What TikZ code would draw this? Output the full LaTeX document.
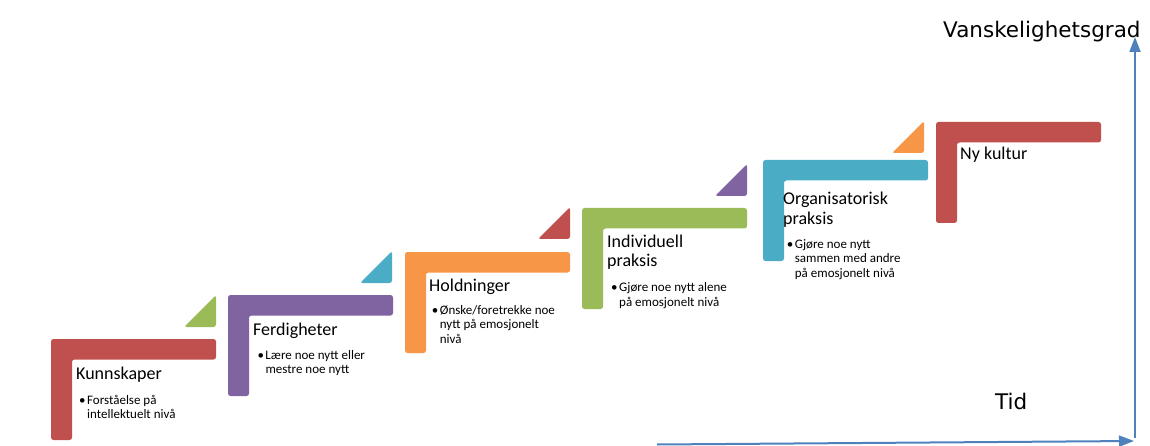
\documentclass[tikz,border=0pt]{standalone}
\usepackage{fontspec}
\setmainfont{Carlito}
\newfontfamily\axisfont{DejaVu Sans}
\usetikzlibrary{arrows.meta}
\definecolor{cred}{HTML}{C0504D}
\definecolor{cpurple}{HTML}{8064A2}
\definecolor{corange}{HTML}{F79646}
\definecolor{cgreen}{HTML}{9BBB59}
\definecolor{cteal}{HTML}{4BACC6}
\definecolor{caxis}{HTML}{4F81BD}
\tikzset{
  pics/lstep/.style={code={\fill[#1,rounded corners=2.5pt] (0,0) -- (165,0) -- (165,20.5) -- (21,20.5) -- (21,101) -- (0,101) -- cycle;}},
  pics/ltri/.style={code={\fill[#1,rounded corners=2.5pt] (0,32) -- (32,32) -- (32,0) -- cycle;}},
  steptitle/.style={anchor=base west, inner sep=0pt, font=\fontsize{18}{19.5}\selectfont},
  stepbullet/.style={anchor=base west, inner sep=0pt, font=\fontsize{13}{14.6}\selectfont},
  axislabel/.style={anchor=base west, inner sep=0pt, font=\axisfont\fontsize{21.5}{24}\selectfont},
  axisarrow/.style={draw=caxis, line width=2pt, -{Triangle[length=15pt,width=11pt]}},
}
\newcommand{\bl}{\makebox[8pt][l]{\textbullet}}
\newcommand{\ind}{\hspace*{8pt}}
\begin{document}
\begin{tikzpicture}[x=1pt,y=-1pt]
\useasboundingbox (0,0) rectangle (1150,446);
% steps
\pic at (51,339) {lstep=cred};
\pic at (228,295) {lstep=cpurple};
\pic at (405,252) {lstep=corange};
\pic at (582,208) {lstep=cgreen};
\pic at (763,160) {lstep=cteal};
\pic at (936,122) {lstep=cred};
% triangles
\pic at (184,295) {ltri=cgreen};
\pic at (360,251) {ltri=cteal};
\pic at (538,207) {ltri=cred};
\pic at (715,164) {ltri=cpurple};
\pic at (892,121) {ltri=corange};
% titles
\node[steptitle] (t1) at (76,379) {Kunnskaper};
\node[steptitle] (t2) at (253,335.5) {Ferdigheter};
\node[steptitle] (t3) at (429,291.7) {Holdninger};
\node[steptitle] (t4) at (607,247.3) {\begin{tabular}[t]{@{}l@{}}Individuell\\praksis\end{tabular}};
\node[steptitle] (t5) at (783,205) {\begin{tabular}[t]{@{}l@{}}Organisatorisk\\praksis\end{tabular}};
\node[steptitle] (t6) at (960,160) {Ny kultur};
% bullets
\node[stepbullet] (b1) at (79,404.3) {\begin{tabular}[t]{@{}l@{}}\bl Forståelse på\\\ind intellektuelt nivå\end{tabular}};
\node[stepbullet] (b2) at (257.3,359) {\begin{tabular}[t]{@{}l@{}}\bl Lære noe nytt eller\\\ind mestre noe nytt\end{tabular}};
\node[stepbullet] (b3) at (431.7,314.3) {\begin{tabular}[t]{@{}l@{}}\bl Ønske/foretrekke noe\\\ind nytt på emosjonelt\\\ind nivå\end{tabular}};
\node[stepbullet] (b4) at (611,291.7) {\begin{tabular}[t]{@{}l@{}}\bl Gjøre noe nytt alene\\\ind på emosjonelt nivå\end{tabular}};
\node[stepbullet] (b5) at (786.7,248.3) {\begin{tabular}[t]{@{}l@{}}\bl Gjøre noe nytt\\\ind sammen med andre\\\ind på emosjonelt nivå\end{tabular}};
% axes
\coordinate (tstart) at (657,444.5);
\coordinate (corner) at (1134,441);
\coordinate (vbase) at (1135,438);
\coordinate (vtop) at (1135,37);
\draw[axisarrow] (tstart) -- (corner);
\draw[axisarrow] (vbase) -- (vtop);
\node[axislabel] (ylab) at (943,37.3) {Vanskelighetsgrad};
\node[axislabel] (xlab) at (995,409) {Tid};
\end{tikzpicture}
\end{document}
